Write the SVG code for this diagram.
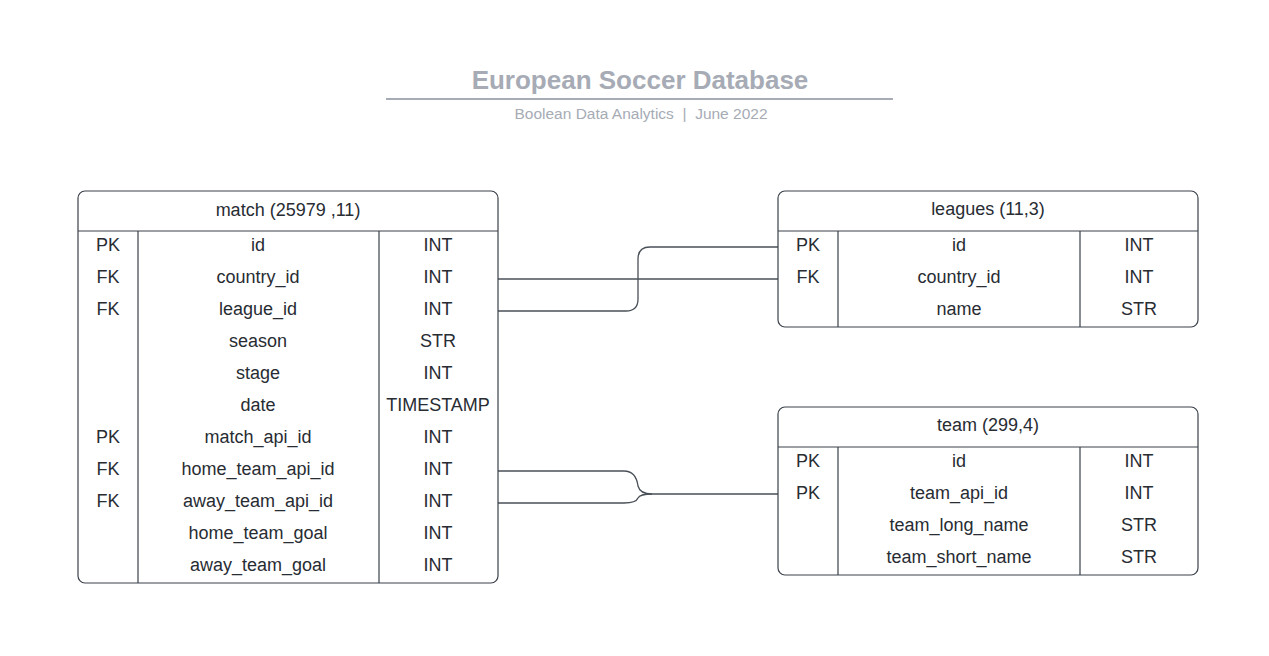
<svg xmlns="http://www.w3.org/2000/svg" width="1269" height="656" viewBox="0 0 1269 656">
<style>
.box{fill:#fff;stroke:#3a414a;stroke-width:1.2}
.ln{stroke:#3a414a;stroke-width:1.2;fill:none}
.t{font-family:"Liberation Sans",Arial,sans-serif;font-size:18px;fill:#282c33;text-anchor:middle}
.c{stroke:#4a5058;stroke-width:1.3;fill:none}
</style>
<rect width="1269" height="656" fill="#fff"/>
<g id="title">
<text x="640" y="89" font-family="Liberation Sans,Arial,sans-serif" font-size="26" font-weight="bold" fill="#a6abb5" text-anchor="middle">European Soccer Database</text>
<line x1="386" y1="99" x2="893" y2="99" stroke="#a6abb5" stroke-width="2"/>
<text x="641" y="119" font-family="Liberation Sans,Arial,sans-serif" font-size="15.5" fill="#a6abb5" text-anchor="middle" xml:space="preserve">Boolean Data Analytics  |  June 2022</text>
</g>
<g id="connectors">
<path class="c" d="M778,247 H650 Q638,247 638,259 V299 Q638,311 626,311 H498"/>
<path class="c" d="M778,279 H498"/>
<path class="c" d="M778,494 H652 Q640,494 638,486 Q636,471 624,471 H498"/>
<path class="c" d="M652,494 Q640,494 638,498 Q636,503 624,503 H498"/>
</g>
<g id="match">
<rect class="box" x="78" y="191" width="420" height="392" rx="7"/>
<line class="ln" x1="78" y1="231" x2="498" y2="231"/>
<line class="ln" x1="138" y1="231" x2="138" y2="583"/>
<line class="ln" x1="379" y1="231" x2="379" y2="583"/>
<text class="t" x="288" y="216">match (25979 ,11)</text>
<text class="t" x="108" y="251">PK</text><text class="t" x="258" y="251">id</text><text class="t" x="438" y="251">INT</text>
<text class="t" x="108" y="283">FK</text><text class="t" x="258" y="283">country_id</text><text class="t" x="438" y="283">INT</text>
<text class="t" x="108" y="315">FK</text><text class="t" x="258" y="315">league_id</text><text class="t" x="438" y="315">INT</text>
<text class="t" x="258" y="347">season</text><text class="t" x="438" y="347">STR</text>
<text class="t" x="258" y="379">stage</text><text class="t" x="438" y="379">INT</text>
<text class="t" x="258" y="411">date</text><text class="t" x="438" y="411">TIMESTAMP</text>
<text class="t" x="108" y="443">PK</text><text class="t" x="258" y="443">match_api_id</text><text class="t" x="438" y="443">INT</text>
<text class="t" x="108" y="475">FK</text><text class="t" x="258" y="475">home_team_api_id</text><text class="t" x="438" y="475">INT</text>
<text class="t" x="108" y="507">FK</text><text class="t" x="258" y="507">away_team_api_id</text><text class="t" x="438" y="507">INT</text>
<text class="t" x="258" y="539">home_team_goal</text><text class="t" x="438" y="539">INT</text>
<text class="t" x="258" y="571">away_team_goal</text><text class="t" x="438" y="571">INT</text>
</g>
<g id="leagues">
<rect class="box" x="778" y="191" width="420" height="136" rx="7"/>
<line class="ln" x1="778" y1="231" x2="1198" y2="231"/>
<line class="ln" x1="838" y1="231" x2="838" y2="327"/>
<line class="ln" x1="1080" y1="231" x2="1080" y2="327"/>
<text class="t" x="988" y="215">leagues (11,3)</text>
<text class="t" x="808" y="251">PK</text><text class="t" x="959" y="251">id</text><text class="t" x="1139" y="251">INT</text>
<text class="t" x="808" y="283">FK</text><text class="t" x="959" y="283">country_id</text><text class="t" x="1139" y="283">INT</text>
<text class="t" x="959" y="315">name</text><text class="t" x="1139" y="315">STR</text>
</g>
<g id="team">
<rect class="box" x="778" y="407" width="420" height="168" rx="7"/>
<line class="ln" x1="778" y1="447" x2="1198" y2="447"/>
<line class="ln" x1="838" y1="447" x2="838" y2="575"/>
<line class="ln" x1="1080" y1="447" x2="1080" y2="575"/>
<text class="t" x="988" y="431">team (299,4)</text>
<text class="t" x="808" y="467">PK</text><text class="t" x="959" y="467">id</text><text class="t" x="1139" y="467">INT</text>
<text class="t" x="808" y="499">PK</text><text class="t" x="959" y="499">team_api_id</text><text class="t" x="1139" y="499">INT</text>
<text class="t" x="959" y="531">team_long_name</text><text class="t" x="1139" y="531">STR</text>
<text class="t" x="959" y="563">team_short_name</text><text class="t" x="1139" y="563">STR</text>
</g>
</svg>
